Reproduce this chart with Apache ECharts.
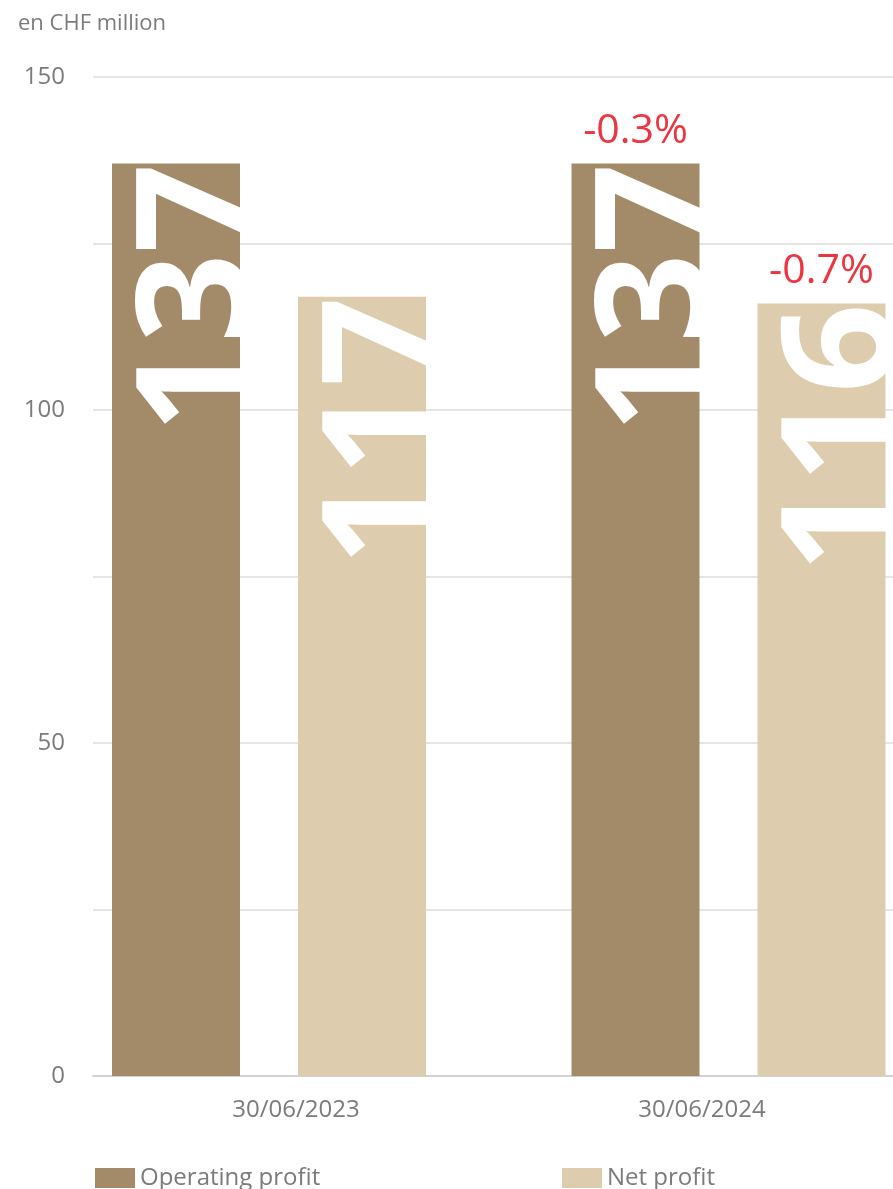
<!DOCTYPE html>
<html>
<head>
<meta charset="utf-8">
<script src="https://cdn.jsdelivr.net/npm/echarts@6/dist/echarts.min.js"></script>
<style>
  html, body { margin: 0; padding: 0; background: #ffffff; }
  #chart { width: 893px; height: 1189px; }
</style>
</head>
<body>
<div id="chart"></div>
<script>
// Half-year results, CHF million
const categories = ['30/06/2023', '30/06/2024'];
const operatingProfit = [137, 137];
const netProfit = [117, 116];
const operatingChange = [null, '-0.3%'];
const netChange = [null, '-0.7%'];
const yTickLabels = [0, 50, 100, 150];

const FONT = 'Open Sans';
const GREY_TEXT = '#7b7b7b';
const COLOR_OPERATING = '#a38b69';
const COLOR_NET = '#ddcdae';
const COLOR_CHANGE = '#ec3540';

function changeMarks(values, changes) {
  return changes
    .map((c, i) => (c ? { coord: [categories[i], values[i]], value: c } : null))
    .filter(Boolean);
}

const valueLabel = {
  show: true,
  formatter: '{c}',
  rotate: 90,
  position: ['71%', 0],
  align: 'right',
  verticalAlign: 'middle',
  color: '#ffffff',
  fontFamily: FONT,
  fontWeight: 'bold',
  fontSize: 157
};

function changeMarkPoint(values, changes) {
  return {
    symbol: 'rect',
    symbolSize: 0,
    silent: true,
    label: {
      show: true,
      position: 'top',
      distance: 12,
      formatter: p => p.value,
      color: COLOR_CHANGE,
      fontFamily: FONT,
      fontSize: 41
    },
    data: changeMarks(values, changes)
  };
}

const chart = echarts.init(document.getElementById('chart'), null, { renderer: 'canvas' });

chart.setOption({
  animation: false,
  backgroundColor: '#ffffff',
  textStyle: { fontFamily: FONT },
  title: {
    text: 'en CHF million',
    left: 13,
    top: 8,
    textStyle: { fontFamily: FONT, fontSize: 22, fontWeight: 'normal', color: GREY_TEXT }
  },
  legend: [
    {
      data: ['Operating profit'],
      left: 95,
      top: 1166,
      padding: 0,
      icon: 'rect',
      itemWidth: 40,
      itemHeight: 20,
      textStyle: { fontFamily: FONT, fontSize: 24, color: GREY_TEXT }
    },
    {
      data: ['Net profit'],
      left: 562,
      top: 1166,
      padding: 0,
      icon: 'rect',
      itemWidth: 40,
      itemHeight: 20,
      textStyle: { fontFamily: FONT, fontSize: 24, color: GREY_TEXT }
    }
  ],
  grid: [
    // axes, gridlines and category labels (plot runs past the right edge)
    { left: 93, width: 812, top: 77, height: 999, outerBoundsMode: 'none' },
    // bar clusters
    { left: 39.25, width: 919, top: 77, height: 999, outerBoundsMode: 'none' }
  ],
  xAxis: [
    {
      type: 'category',
      gridIndex: 0,
      data: categories,
      axisTick: { show: false },
      axisLine: { lineStyle: { color: '#d2d2d2', width: 2 } },
      axisLabel: { margin: 22, fontFamily: FONT, fontSize: 24, color: GREY_TEXT }
    },
    {
      type: 'category',
      gridIndex: 1,
      data: categories,
      show: false
    }
  ],
  yAxis: [
    {
      type: 'value',
      gridIndex: 0,
      min: 0,
      max: 150,
      interval: 25,
      axisLine: { show: false },
      axisTick: { show: false },
      splitLine: { lineStyle: { color: '#dcdcdc', width: 1.5 } },
      axisLabel: {
        margin: 28,
        fontFamily: FONT,
        fontSize: 24,
        color: GREY_TEXT,
        formatter: v => (yTickLabels.includes(v) ? String(v) : '')
      }
    },
    {
      type: 'value',
      gridIndex: 1,
      min: 0,
      max: 150,
      show: false
    }
  ],
  series: [
    {
      name: 'Operating profit',
      type: 'bar',
      xAxisIndex: 1,
      yAxisIndex: 1,
      data: operatingProfit,
      barWidth: 128,
      barGap: '45.3%',
      itemStyle: { color: COLOR_OPERATING },
      label: valueLabel,
      markPoint: changeMarkPoint(operatingProfit, operatingChange)
    },
    {
      name: 'Net profit',
      type: 'bar',
      xAxisIndex: 1,
      yAxisIndex: 1,
      data: netProfit,
      barWidth: 128,
      barGap: '45.3%',
      itemStyle: { color: COLOR_NET },
      label: valueLabel,
      markPoint: changeMarkPoint(netProfit, netChange)
    }
  ]
});
</script>
</body>
</html>
